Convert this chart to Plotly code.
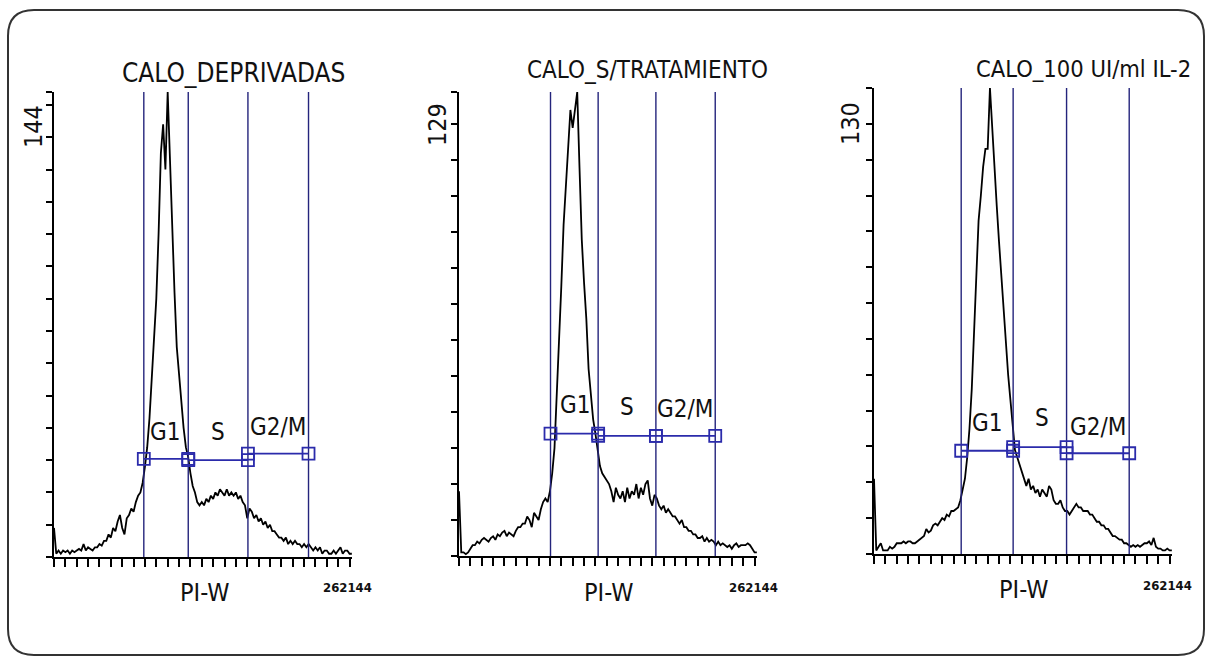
import plotly.graph_objects as go

W, H = 1208, 656

# ---------------- data ----------------
# histogram channel centres (in thousands of PI-W units), 2K-wide bins
CHANNEL_K = list(range(0, 263, 2))
X_MAX_K = 262.144

TITLES = ["CALO_DEPRIVADAS", "CALO_S/TRATAMIENTO", "CALO_100 UI/ml IL-2"]
Y_MAX = [144, 129, 130]
X_TICK_LABEL = "262144"
X_AXIS_LABEL = "PI-W"
GATE_NAMES = ["G1", "S", "G2/M"]

counts_deprivadas = [
    9, 1, 2, 1, 2, 1.5, 2, 1, 2, 1.5,
    2, 2.5, 2, 4, 2, 3, 2.5, 2, 3, 3,
    4, 3.5, 5, 5, 7, 6, 9, 8, 11, 13,
    9, 7, 12, 13, 15, 14, 17, 19, 20, 23,
    28, 34, 43, 55, 66, 80, 100, 125, 134, 120,
    144, 122, 102, 82, 65, 56, 48, 40, 34, 31,
    26, 22, 20, 17, 16, 17, 16, 18, 17, 19,
    18, 20, 19, 21, 20, 19, 21, 19, 20, 19,
    20, 18, 19, 17, 16, 12, 15, 14, 12, 13,
    11, 12, 10, 11, 9, 10, 8, 8, 7, 6,
    6, 5, 6, 4, 5, 4, 5, 4, 4, 3,
    4, 3, 4, 3, 2, 3, 2, 3, 1, 2,
    2, 1, 1, 2, 1, 2, 3, 1, 2, 2,
    1, 1,
]
counts_sin_tratamiento = [
    18, 1, 1, 0.5, 1, 2, 3, 3, 4, 3.5,
    4.5, 5, 4.5, 4, 5, 5.5, 4.5, 6, 5.5, 6.5,
    7, 5.5, 6.5, 6, 5.5, 7, 8, 8, 9, 9,
    11, 10, 8, 12, 11, 10, 13, 15, 16, 15,
    18, 23, 30, 44, 60, 75, 92, 104, 112, 124,
    119, 124, 129, 108, 88, 76, 66, 52, 44, 38,
    34, 29, 25, 23, 22, 21, 20, 18, 15, 19,
    17, 16, 18, 15, 19, 16, 18, 17, 20, 16,
    19, 17, 20, 21, 16, 14, 17, 16, 14, 13,
    14, 12, 13, 12, 11, 11, 10, 9, 10, 8,
    8, 7, 7, 6, 6, 5, 5, 5.5, 4, 5,
    4, 4.5, 4, 3, 4, 3, 3.5, 3, 2.5, 3,
    2, 3, 3.5, 2.5, 3, 3, 3, 3.5, 3, 2,
    1, 1,
]
counts_il2 = [
    21, 1, 2, 3, 1, 1, 1, 2, 1.5, 2,
    3, 3, 3, 3.5, 3, 3.5, 3.5, 3, 3, 3.5,
    4, 4.5, 5, 7, 6, 6.5, 8, 8.5, 8, 9,
    10, 9.5, 11, 10.5, 12, 12, 12.5, 13, 15, 18,
    21, 27, 35, 46, 62, 75, 93, 100, 108, 113,
    113, 130, 118, 110, 97, 87, 77, 70, 58, 50,
    43, 35, 29, 27, 25, 23, 21, 19, 21, 18,
    19, 17, 18, 16, 18, 17, 16, 19, 18, 15,
    14, 14, 15, 13, 12, 12, 11, 12, 13, 14,
    13, 13, 12, 12, 12, 11, 11, 10, 9, 9,
    8, 8, 7, 7, 6, 5, 5, 4.5, 4, 4,
    3, 3, 2.5, 2, 2.5, 2, 2.5, 2, 2.5, 3,
    3, 3.5, 2.5, 4.5, 2, 1.5, 1.5, 1, 1, 1.5,
    1, 1,
]
COUNTS = [counts_deprivadas, counts_sin_tratamiento, counts_il2]

# gate boundaries (K units) and marker heights (counts) for G1, S, G2/M
gate_edges_deprivadas = [79.0, 118.1, 170.6, 223.9]
gate_edges_sin_tratamiento = [80.5, 122.4, 173.2, 225.4]
gate_edges_il2 = [76.7, 122.4, 169.4, 224.5]
GATE_EDGES = [gate_edges_deprivadas, gate_edges_sin_tratamiento, gate_edges_il2]

gate_level_deprivadas = [30.4, 30.0, 32.0]
gate_level_sin_tratamiento = [34.0, 33.4, 33.4]
gate_level_il2 = [28.8, 29.8, 28.1]
GATE_LEVEL = [gate_level_deprivadas, gate_level_sin_tratamiento, gate_level_il2]

# gate label anchor positions (K units, counts)
gate_label_x = [[97.6, 144.3, 197.0], [102.0, 147.8, 198.8], [99.4, 147.8, 197.0]]
gate_label_y = [[38.7, 38.7, 40.2], [42.0, 41.4, 41.0], [36.6, 38.0, 35.5]]

# ---------------- layout geometry (pixels) ----------------
PANEL_PX = [  # left, right, top, bottom
    (54, 352, 92, 557),
    (459, 757, 92, 556),
    (874, 1172, 88, 554),
]
TITLE_PX = [(233, 73), (647, 70), (1083, 69)]
TITLE_SIZE = [26, 24, 23.5]
YMAX_LABEL_PX = [(33, 127), (437, 125), (851, 124)]
XLABEL_PX = [(205, 592), (609, 592), (1024, 589)]
XEND_LABEL_PX = [(348, 587), (753, 587), (1167, 585)]

FONT = "'DejaVu Sans Condensed', 'Liberation Sans Narrow', 'Arial Narrow', sans-serif"
GATE_LINE = "#24247c"
GATE_MARK = "#2b2bab"


def fx(p):
    return p / W


def fy(p):
    return 1 - p / H


def label(x, y, text, size, xref="paper", yref="paper", angle=0):
    return dict(x=x, y=y, xref=xref, yref=yref, text=text, showarrow=False,
                xanchor="center", yanchor="middle", textangle=angle,
                font=dict(family=FONT, size=size, color="#111"))


fig = go.Figure()
annotations = []

for i in range(3):
    ax = "" if i == 0 else str(i + 1)
    xref, yref = "x" + ax, "y" + ax
    left, right, top, bottom = PANEL_PX[i]
    ymax = Y_MAX[i]

    # histogram
    fig.add_trace(go.Scatter(
        x=CHANNEL_K, y=COUNTS[i], mode="lines",
        line=dict(color="black", width=1.8),
        xaxis=xref, yaxis=yref, showlegend=False, hoverinfo="skip"))

    # gate boundary verticals
    for e in GATE_EDGES[i]:
        fig.add_trace(go.Scatter(
            x=[e, e], y=[0, ymax], mode="lines",
            line=dict(color=GATE_LINE, width=1.4),
            xaxis=xref, yaxis=yref, showlegend=False, hoverinfo="skip"))

    # marker bars with square handles
    edges = GATE_EDGES[i]
    for g in range(3):
        lvl = GATE_LEVEL[i][g]
        fig.add_trace(go.Scatter(
            x=[edges[g], edges[g + 1]], y=[lvl, lvl], mode="lines+markers",
            line=dict(color=GATE_MARK, width=1.8),
            marker=dict(symbol="square-open", size=12, color=GATE_MARK,
                        line=dict(width=1.8, color=GATE_MARK)),
            xaxis=xref, yaxis=yref, showlegend=False, hoverinfo="skip"))
        annotations.append(label(gate_label_x[i][g], gate_label_y[i][g],
                                 GATE_NAMES[g], 24, xref, yref))

    xtick_vals = list(range(0, 261, 10))
    ytick_vals = list(range(0, ymax, 10)) + [ymax]
    fig.update_layout(**{
        "xaxis" + ax: dict(
            domain=[fx(left), fx(right)], range=[0, X_MAX_K],
            showgrid=False, zeroline=False, showline=True,
            linecolor="black", linewidth=2,
            ticks="outside", ticklen=8, tickwidth=1.5, tickcolor="black",
            tickvals=xtick_vals, showticklabels=False,
            anchor=yref, fixedrange=True),
        "yaxis" + ax: dict(
            domain=[fy(bottom), fy(top)], range=[0, ymax],
            showgrid=False, zeroline=False, showline=True,
            linecolor="black", linewidth=2,
            ticks="outside", ticklen=6, tickwidth=1.5, tickcolor="black",
            tickvals=ytick_vals, showticklabels=False,
            anchor=xref, fixedrange=True),
    })

    annotations.append(label(fx(TITLE_PX[i][0]), fy(TITLE_PX[i][1]), TITLES[i], TITLE_SIZE[i]))
    annotations.append(label(fx(YMAX_LABEL_PX[i][0]), fy(YMAX_LABEL_PX[i][1]),
                             str(ymax), 25, angle=-90))
    annotations.append(label(fx(XLABEL_PX[i][0]), fy(XLABEL_PX[i][1]), X_AXIS_LABEL, 25))
    annotations.append(label(fx(XEND_LABEL_PX[i][0]), fy(XEND_LABEL_PX[i][1]),
                             "<b>" + X_TICK_LABEL + "</b>", 13))

# rounded outer frame
L, T, R, B, r = 8, 10, 1204, 655, 26
path = (f"M {fx(L + r)},{fy(T)} L {fx(R - r)},{fy(T)} "
        f"Q {fx(R)},{fy(T)} {fx(R)},{fy(T + r)} L {fx(R)},{fy(B - r)} "
        f"Q {fx(R)},{fy(B)} {fx(R - r)},{fy(B)} L {fx(L + r)},{fy(B)} "
        f"Q {fx(L)},{fy(B)} {fx(L)},{fy(B - r)} L {fx(L)},{fy(T + r)} "
        f"Q {fx(L)},{fy(T)} {fx(L + r)},{fy(T)} Z")

fig.update_layout(
    width=W, height=H,
    margin=dict(l=0, r=0, t=0, b=0),
    paper_bgcolor="white", plot_bgcolor="white",
    annotations=annotations,
    shapes=[dict(type="path", path=path, xref="paper", yref="paper",
                 line=dict(color="#333", width=2))],
)

fig.write_html("out.html")
